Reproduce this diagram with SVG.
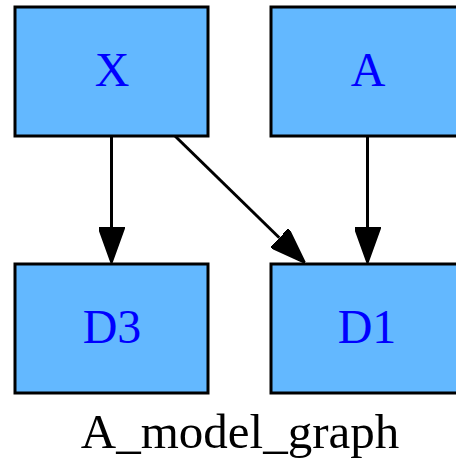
<svg xmlns="http://www.w3.org/2000/svg" width="456" height="461" viewBox="0 0 456 461">
  <style>
    .node rect { fill: #63b8ff; stroke: #000; stroke-width: 3; }
    .node text { fill: #0000ff; font-family: "Liberation Serif", "Times New Roman", serif; font-size: 48px; text-anchor: middle; }
    .edge { stroke: #000; stroke-width: 3; fill: none; marker-end: url(#arrow); }
    .title { fill: #000; font-family: "Liberation Serif", "Times New Roman", serif; font-size: 49px; text-anchor: middle; }
  </style>
  <defs>
    <marker id="arrow" markerUnits="userSpaceOnUse" viewBox="0 0 36 26" refX="0" refY="13" markerWidth="36" markerHeight="26" orient="auto">
      <path d="M0,0 L36,13 L0,26 Z" fill="#000" stroke="#000" stroke-width="2" stroke-linejoin="miter"/>
    </marker>
  </defs>
  <rect width="456" height="461" fill="#fff"/>
  <g id="connectors">
    <line class="edge" x1="111.5" y1="136" x2="111.5" y2="227"/>
    <line class="edge" x1="175" y1="136" x2="279.3" y2="237.8"/>
    <line class="edge" x1="367.5" y1="136" x2="367.5" y2="227"/>
  </g>
  <g id="node-X" class="node">
    <rect x="15" y="7" width="193" height="129"/>
    <text x="112" y="86">X</text>
  </g>
  <g id="node-A" class="node">
    <rect x="271" y="7" width="193" height="129"/>
    <text x="368" y="86">A</text>
  </g>
  <g id="node-D3" class="node">
    <rect x="15" y="264" width="193" height="129"/>
    <text x="112" y="343">D3</text>
  </g>
  <g id="node-D1" class="node">
    <rect x="271" y="264" width="193" height="129"/>
    <text x="367" y="343">D1</text>
  </g>
  <text class="title" x="240" y="448">A_model_graph</text>
</svg>
